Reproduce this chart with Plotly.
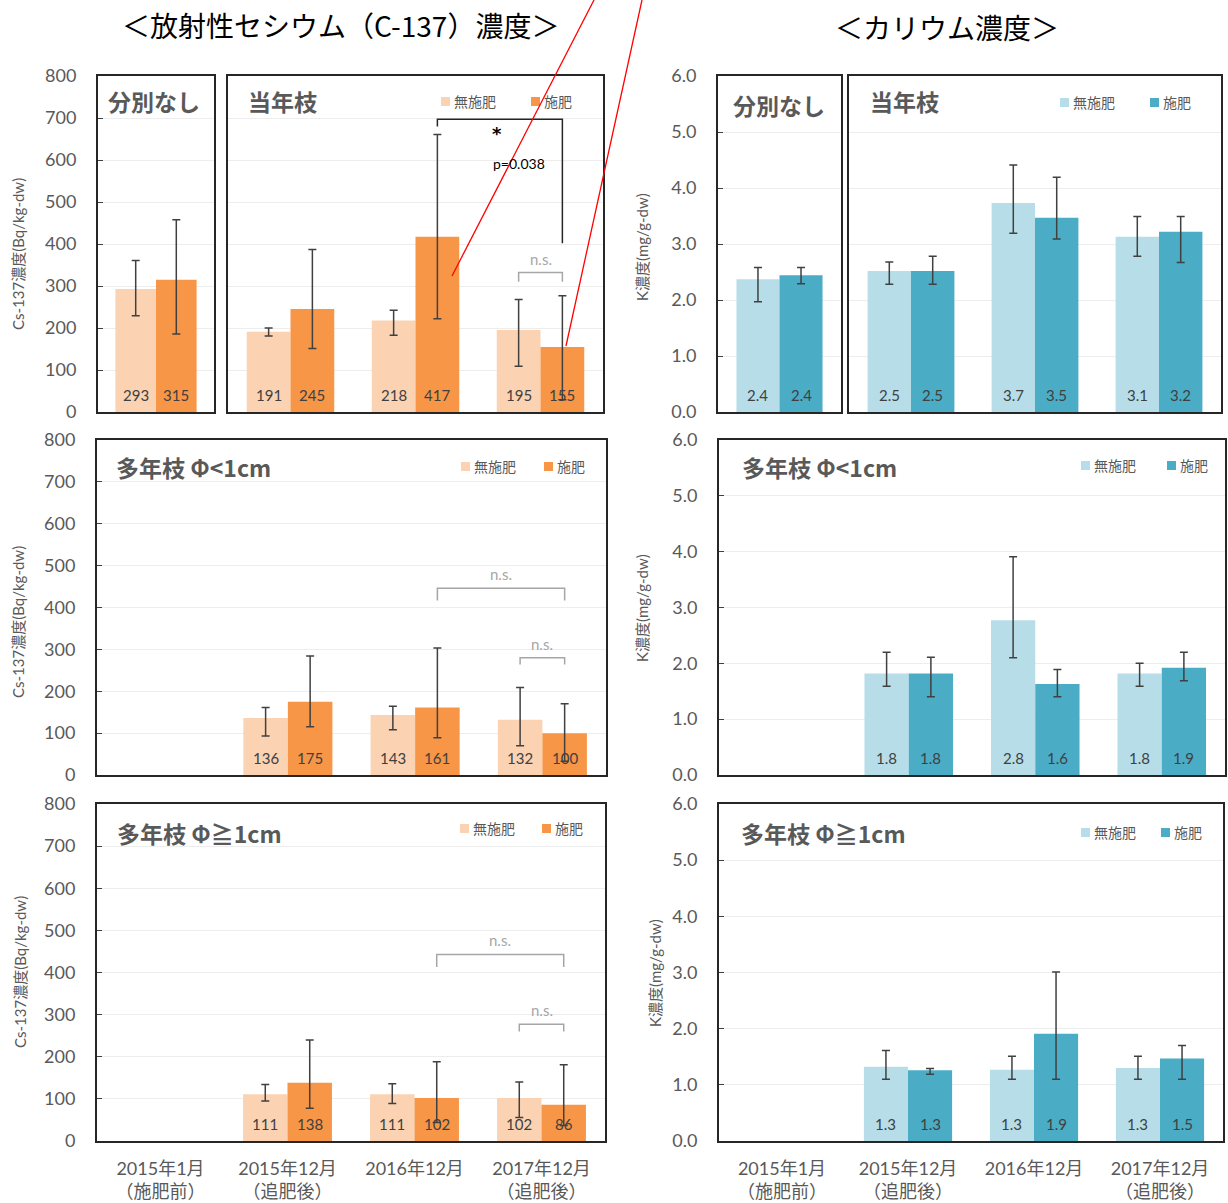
import plotly.graph_objects as go

W, H = 1228, 1203

# ---------------- categories ----------------
periods = ["2015年1月<br>（施肥前）", "2015年12月<br>（追肥後）", "2016年12月", "2017年12月<br>（追肥後）"]
treatments = ["無施肥", "施肥"]

# ---------------- Cs-137 concentration (Bq/kg-dw) ----------------
# unsorted sample, 2015年1月
cs_mixed_nofert = [293]
cs_mixed_nofert_hi = [361]
cs_mixed_nofert_lo = [229]
cs_mixed_fert = [315]
cs_mixed_fert_hi = [458]
cs_mixed_fert_lo = [186]

# current-year shoots: 2015年12月, 2016年12月, 2017年12月
cs_shoot_nofert = [191, 218, 195]
cs_shoot_nofert_hi = [200, 242, 268]
cs_shoot_nofert_lo = [181, 183, 109]
cs_shoot_fert = [245, 417, 155]
cs_shoot_fert_hi = [387, 661, 277]
cs_shoot_fert_lo = [151, 222, 29]

# perennial branches Φ<1cm (not measured in 2015年1月)
cs_thin_nofert = [None, 136, 143, 132]
cs_thin_nofert_hi = [None, 161, 164, 209]
cs_thin_nofert_lo = [None, 93, 108, 70]
cs_thin_fert = [None, 175, 161, 100]
cs_thin_fert_hi = [None, 284, 303, 170]
cs_thin_fert_lo = [None, 115, 89, 33]

# perennial branches Φ≧1cm
cs_thick_nofert = [None, 111, 111, 102]
cs_thick_nofert_hi = [None, 134, 136, 140]
cs_thick_nofert_lo = [None, 95, 89, 56]
cs_thick_fert = [None, 138, 102, 86]
cs_thick_fert_hi = [None, 240, 188, 181]
cs_thick_fert_lo = [None, 78, 44, 37]

# ---------------- K concentration (mg/g-dw) ----------------
k_mixed_nofert = [2.37]
k_mixed_nofert_hi = [2.58]
k_mixed_nofert_lo = [1.97]
k_mixed_fert = [2.44]
k_mixed_fert_hi = [2.58]
k_mixed_fert_lo = [2.29]

k_shoot_nofert = [2.52, 3.73, 3.13]
k_shoot_nofert_hi = [2.68, 4.41, 3.49]
k_shoot_nofert_lo = [2.28, 3.19, 2.78]
k_shoot_fert = [2.52, 3.47, 3.22]
k_shoot_fert_hi = [2.78, 4.19, 3.49]
k_shoot_fert_lo = [2.28, 3.09, 2.67]

k_thin_nofert = [None, 1.82, 2.77, 1.82]
k_thin_nofert_hi = [None, 2.20, 3.91, 2.00]
k_thin_nofert_lo = [None, 1.59, 2.10, 1.59]
k_thin_fert = [None, 1.82, 1.63, 1.92]
k_thin_fert_hi = [None, 2.11, 1.89, 2.20]
k_thin_fert_lo = [None, 1.40, 1.40, 1.69]

k_thick_nofert = [None, 1.32, 1.27, 1.30]
k_thick_nofert_hi = [None, 1.61, 1.51, 1.51]
k_thick_nofert_lo = [None, 1.10, 1.10, 1.10]
k_thick_fert = [None, 1.26, 1.91, 1.47]
k_thick_fert_hi = [None, 1.29, 3.01, 1.70]
k_thick_fert_lo = [None, 1.19, 1.10, 1.10]

# ---------------- styling ----------------
CS_COLORS = ["#FBD3B2", "#F79646"]
K_COLORS = ["#B7DEE8", "#4BACC6"]
NUM_FONT = "Lato, Noto Sans CJK JP, sans-serif"
JP_FONT = "Noto Sans CJK JP, sans-serif"
GRAY_TXT = "#595959"
FRAME = "#262626"
BARGAP = 0.3
HALF = (1 - BARGAP) / 4          # offset of each bar centre from its category centre


def fx(px):
    return px / W


def fy(py):
    return 1 - py / H


fig = go.Figure()
annotations = []
shapes = []

# panels: axis id, x pixel span, y pixel span, y range, dtick, labels on y, bottom row, data
panels = [
    dict(ax=1, xs=(98, 214), ys=(76, 412), rng=(0, 800), dt=100, fmt="d", ylab=True, bottom=False,
         cats=["2015年1月"], colors=CS_COLORS,
         series=[(cs_mixed_nofert, cs_mixed_nofert_hi, cs_mixed_nofert_lo),
                 (cs_mixed_fert, cs_mixed_fert_hi, cs_mixed_fert_lo)]),
    dict(ax=2, xs=(228, 603), ys=(76, 412), rng=(0, 800), dt=100, fmt="d", ylab=False, bottom=False,
         cats=periods[1:], colors=CS_COLORS,
         series=[(cs_shoot_nofert, cs_shoot_nofert_hi, cs_shoot_nofert_lo),
                 (cs_shoot_fert, cs_shoot_fert_hi, cs_shoot_fert_lo)]),
    dict(ax=3, xs=(718, 841), ys=(76, 412), rng=(0, 6), dt=1, fmt=".1f", ylab=True, bottom=False,
         cats=["2015年1月"], colors=K_COLORS,
         series=[(k_mixed_nofert, k_mixed_nofert_hi, k_mixed_nofert_lo),
                 (k_mixed_fert, k_mixed_fert_hi, k_mixed_fert_lo)]),
    dict(ax=4, xs=(849, 1221), ys=(76, 412), rng=(0, 6), dt=1, fmt=".1f", ylab=False, bottom=False,
         cats=periods[1:], colors=K_COLORS,
         series=[(k_shoot_nofert, k_shoot_nofert_hi, k_shoot_nofert_lo),
                 (k_shoot_fert, k_shoot_fert_hi, k_shoot_fert_lo)]),
    dict(ax=5, xs=(97, 606), ys=(440, 775), rng=(0, 800), dt=100, fmt="d", ylab=True, bottom=False,
         cats=periods, colors=CS_COLORS,
         series=[(cs_thin_nofert, cs_thin_nofert_hi, cs_thin_nofert_lo),
                 (cs_thin_fert, cs_thin_fert_hi, cs_thin_fert_lo)]),
    dict(ax=6, xs=(719, 1225), ys=(440, 775), rng=(0, 6), dt=1, fmt=".1f", ylab=True, bottom=False,
         cats=periods, colors=K_COLORS,
         series=[(k_thin_nofert, k_thin_nofert_hi, k_thin_nofert_lo),
                 (k_thin_fert, k_thin_fert_hi, k_thin_fert_lo)]),
    dict(ax=7, xs=(97, 605), ys=(804, 1141), rng=(0, 800), dt=100, fmt="d", ylab=True, bottom=True,
         cats=periods, colors=CS_COLORS,
         series=[(cs_thick_nofert, cs_thick_nofert_hi, cs_thick_nofert_lo),
                 (cs_thick_fert, cs_thick_fert_hi, cs_thick_fert_lo)]),
    dict(ax=8, xs=(719, 1223), ys=(804, 1141), rng=(0, 6), dt=1, fmt=".1f", ylab=True, bottom=True,
         cats=periods, colors=K_COLORS,
         series=[(k_thick_nofert, k_thick_nofert_hi, k_thick_nofert_lo),
                 (k_thick_fert, k_thick_fert_hi, k_thick_fert_lo)]),
]

layout_axes = {}
for p in panels:
    n = len(p["cats"])
    xi = list(range(n))
    sfx = "" if p["ax"] == 1 else str(p["ax"])
    xref, yref = "x" + sfx, "y" + sfx
    for t, (vals, hi, lo) in enumerate(p["series"]):
        plus = [None if v is None else h - v for v, h in zip(vals, hi)]
        minus = [None if v is None else v - l for v, l in zip(vals, lo)]
        fig.add_trace(go.Bar(
            x=xi, y=vals, name=treatments[t], xaxis=xref, yaxis=yref,
            marker=dict(color=p["colors"][t], line=dict(width=0)),
            error_y=dict(type="data", symmetric=False, array=plus, arrayminus=minus,
                         color="#404040", thickness=1.5, width=4),
            showlegend=False, hoverinfo="skip",
        ))
        # value labels near the bar base
        off = -HALF if t == 0 else HALF
        for i, v in enumerate(vals):
            if v is None:
                continue
            txt = str(v) if p["fmt"] == "d" else f"{v:.1f}"
            annotations.append(dict(
                x=i + off, y=0, xref=xref, yref=yref, text=txt, showarrow=False,
                xanchor="center", yanchor="middle", yshift=17,
                font=dict(family=NUM_FONT, size=15, color="#404040")))

    layout_axes["xaxis" + sfx] = dict(
        domain=[fx(p["xs"][0]), fx(p["xs"][1])], anchor=yref, range=[-0.5, n - 0.5],
        showgrid=False, zeroline=False, showline=True, linecolor=FRAME, linewidth=2,
        mirror=True, ticks="", fixedrange=True, automargin=False,
        tickvals=xi if p["bottom"] else [], ticktext=p["cats"] if p["bottom"] else [],
        showticklabels=p["bottom"], ticklabelstandoff=10,
        tickfont=dict(family=NUM_FONT, size=18, color=GRAY_TXT))
    layout_axes["yaxis" + sfx] = dict(
        domain=[fy(p["ys"][1]), fy(p["ys"][0])], anchor=xref, range=list(p["rng"]),
        tick0=0, dtick=p["dt"], tickformat=p["fmt"], automargin=False,
        showgrid=True, gridcolor="#EDEDED", gridwidth=1, zeroline=False,
        showline=True, linecolor=FRAME, linewidth=2, mirror=True,
        ticks="inside" if p["ylab"] else "", ticklen=5, tickcolor="#404040",
        showticklabels=p["ylab"], ticklabelstandoff=16,
        tickfont=dict(family=NUM_FONT, size=18, color=GRAY_TXT), fixedrange=True)

# ---------------- significance brackets ----------------
# (axis suffix, left category, left treatment, right category, right treatment,
#  bracket height, left leg end, right leg end, label, colour)
brackets = [
    ("2", 1, 1, 2, 1, 697, 680, 402, None, "#262626"),
    ("2", 2, 0, 2, 1, 332, 310, 310, "n.s.", "#A6A6A6"),
    ("5", 2, 1, 3, 1, 446, 417, 417, "n.s.", "#A6A6A6"),
    ("5", 3, 0, 3, 1, 280, 264, 264, "n.s.", "#A6A6A6"),
    ("7", 2, 1, 3, 1, 443, 413, 413, "n.s.", "#A6A6A6"),
    ("7", 3, 0, 3, 1, 277, 260, 260, "n.s.", "#A6A6A6"),
]
for sfx, c0, t0, c1, t1, top, l0, l1, lab, col in brackets:
    x0 = c0 + (HALF if t0 else -HALF)
    x1 = c1 + (HALF if t1 else -HALF)
    shapes.append(dict(type="path", xref="x" + sfx, yref="y" + sfx,
                       path=f"M{x0},{l0} L{x0},{top} L{x1},{top} L{x1},{l1}",
                       line=dict(color=col, width=1.5)))
    if lab:
        annotations.append(dict(x=(x0 + x1) / 2, y=top, xref="x" + sfx, yref="y" + sfx,
                                text=lab, showarrow=False, xanchor="center",
                                yanchor="bottom", yshift=3,
                                font=dict(family=NUM_FONT, size=15, color="#A6A6A6")))

annotations.append(dict(x=1.65, y=663, xref="x2", yref="y2", text="*", showarrow=False,
                        xanchor="center", yanchor="middle",
                        font=dict(family="DejaVu Sans, sans-serif", size=18,
                                  color="#000000", weight="bold")))
annotations.append(dict(x=1.83, y=592, xref="x2", yref="y2", text="p=0.038", showarrow=False,
                        xanchor="center", yanchor="middle",
                        font=dict(family=NUM_FONT, size=14, color="#000000")))

# ---------------- panel titles ----------------
panel_titles = [
    (106, 101, "分別なし"), (246, 101, "当年枝"),
    (731, 105, "分別なし"), (868, 101, "当年枝"),
    (114, 467, "多年枝 Φ&lt;1cm"), (740, 467, "多年枝 Φ&lt;1cm"),
    (115, 833, "多年枝 Φ≧1cm"), (739, 833, "多年枝 Φ≧1cm"),
]
for x, y, t in panel_titles:
    annotations.append(dict(x=fx(x), y=fy(y), xref="paper", yref="paper", text=t,
                            showarrow=False, xanchor="left", yanchor="middle",
                            font=dict(family=JP_FONT, size=23, color=GRAY_TXT, weight="bold")))

# ---------------- per-panel keys ----------------
keys = [
    (441, 531, 101, CS_COLORS), (1060, 1150, 102, K_COLORS),
    (461, 544, 466, CS_COLORS), (1081, 1167, 465, K_COLORS),
    (460, 542, 828, CS_COLORS), (1081, 1161, 832, K_COLORS),
]
for xa, xb, yc, cols in keys:
    for xl, col, name in ((xa, cols[0], treatments[0]), (xb, cols[1], treatments[1])):
        shapes.append(dict(type="rect", xref="paper", yref="paper",
                           x0=fx(xl), x1=fx(xl + 9), y0=fy(yc + 5), y1=fy(yc - 4),
                           fillcolor=col, line=dict(width=0)))
        annotations.append(dict(x=fx(xl + 11), y=fy(yc), xref="paper", yref="paper",
                                text=name, showarrow=False, xanchor="left", yanchor="middle",
                                font=dict(family=JP_FONT, size=14, color=GRAY_TXT)))

# ---------------- axis titles ----------------
ytitles = [
    (18, 254, "Cs-137濃度(Bq/kg-dw)"), (18, 622, "Cs-137濃度(Bq/kg-dw)"), (20, 972, "Cs-137濃度(Bq/kg-dw)"),
    (642, 247, "K濃度(mg/g-dw)"), (642, 608, "K濃度(mg/g-dw)"), (655, 973, "K濃度(mg/g-dw)"),
]
for x, y, t in ytitles:
    annotations.append(dict(x=fx(x), y=fy(y), xref="paper", yref="paper", text=t,
                            showarrow=False, textangle=-90, xanchor="center", yanchor="middle",
                            font=dict(family=NUM_FONT, size=15, color=GRAY_TXT)))

# ---------------- chart headings ----------------
annotations.append(dict(x=fx(340), y=fy(25), xref="paper", yref="paper",
                        text="＜放射性セシウム（C-137）濃度＞", showarrow=False,
                        xanchor="center", yanchor="middle",
                        font=dict(family=JP_FONT, size=28, color="#000000")))
annotations.append(dict(x=fx(947), y=fy(27), xref="paper", yref="paper",
                        text="＜カリウム濃度＞", showarrow=False,
                        xanchor="center", yanchor="middle",
                        font=dict(family=JP_FONT, size=28, color="#000000")))

# ---------------- red pointer lines ----------------
for (xa, ya), (xb, yb) in (((452, 276), (594, 0)), ((566, 346), (642, 0))):
    shapes.append(dict(type="line", xref="paper", yref="paper",
                       x0=fx(xa), y0=fy(ya), x1=fx(xb), y1=fy(yb),
                       line=dict(color="#FF0000", width=1.3)))

fig.update_layout(
    width=W, height=H, margin=dict(l=0, r=0, t=0, b=0, autoexpand=False),
    paper_bgcolor="white", plot_bgcolor="white",
    barmode="group", bargap=BARGAP, bargroupgap=0,
    annotations=annotations, shapes=shapes,
    **layout_axes,
)

fig.write_html("out.html")
